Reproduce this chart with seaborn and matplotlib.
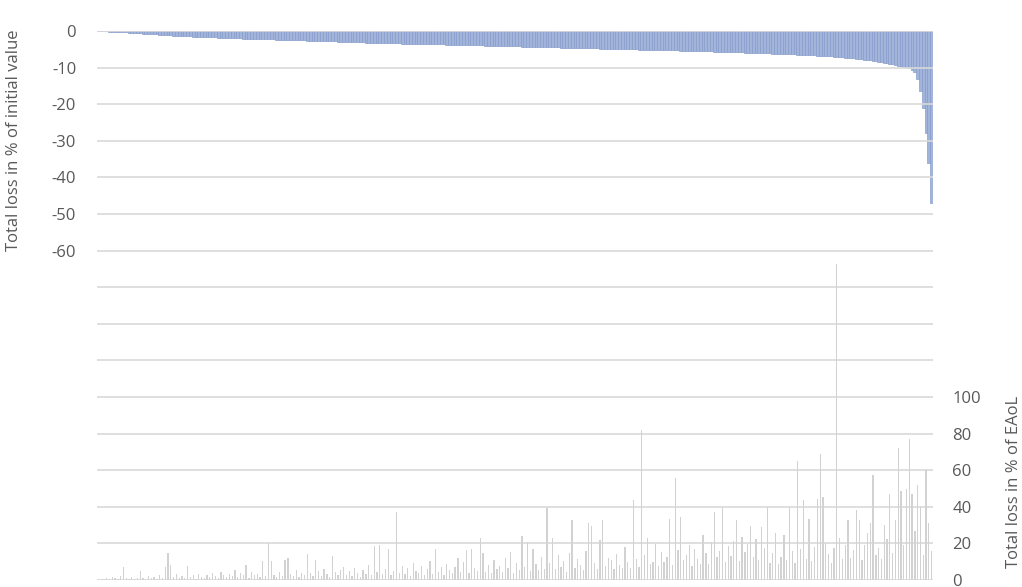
import pandas as pd
import matplotlib
matplotlib.use('Agg')
import matplotlib.pyplot as plt
import seaborn as sns

# Loss per item, sorted (left axis, % of initial value)
loss_initial = [
    -0.02, -0.05, -0.08, -0.11, -0.14, -0.18, -0.22, -0.26, -0.30, -0.35,
    -0.40, -0.45, -0.50, -0.55, -0.60, -0.65, -0.70, -0.75, -0.80, -0.85,
    -0.90, -0.95, -1.00, -1.05, -1.10, -1.15, -1.20, -1.26, -1.31, -1.36,
    -1.40, -1.43, -1.46, -1.49, -1.52, -1.55, -1.58, -1.61, -1.64, -1.67,
    -1.70, -1.73, -1.76, -1.79, -1.82, -1.85, -1.88, -1.91, -1.94, -1.97,
    -2.00, -2.02, -2.05, -2.07, -2.10, -2.12, -2.15, -2.17, -2.20, -2.22,
    -2.25, -2.27, -2.30, -2.32, -2.35, -2.37, -2.40, -2.42, -2.45, -2.47,
    -2.50, -2.52, -2.54, -2.56, -2.58, -2.60, -2.62, -2.64, -2.66, -2.68,
    -2.70, -2.73, -2.76, -2.79, -2.82, -2.85, -2.88, -2.91, -2.94, -2.97,
    -3.00, -3.02, -3.05, -3.07, -3.10, -3.12, -3.15, -3.17, -3.20, -3.22,
    -3.25, -3.27, -3.29, -3.31, -3.33, -3.35, -3.37, -3.39, -3.41, -3.43,
    -3.45, -3.46, -3.48, -3.49, -3.51, -3.52, -3.54, -3.55, -3.57, -3.58,
    -3.60, -3.62, -3.64, -3.66, -3.68, -3.70, -3.72, -3.74, -3.76, -3.78,
    -3.80, -3.82, -3.84, -3.86, -3.88, -3.90, -3.92, -3.94, -3.96, -3.98,
    -4.00, -4.02, -4.04, -4.06, -4.08, -4.10, -4.12, -4.14, -4.16, -4.18,
    -4.20, -4.22, -4.24, -4.26, -4.28, -4.30, -4.32, -4.34, -4.36, -4.38,
    -4.40, -4.42, -4.44, -4.46, -4.48, -4.50, -4.52, -4.54, -4.56, -4.58,
    -4.60, -4.62, -4.64, -4.66, -4.68, -4.70, -4.72, -4.74, -4.76, -4.78,
    -4.80, -4.82, -4.84, -4.86, -4.88, -4.90, -4.92, -4.94, -4.96, -4.98,
    -5.00, -5.01, -5.03, -5.04, -5.06, -5.07, -5.09, -5.10, -5.12, -5.13,
    -5.15, -5.17, -5.19, -5.21, -5.23, -5.25, -5.27, -5.29, -5.31, -5.33,
    -5.35, -5.37, -5.40, -5.42, -5.45, -5.47, -5.50, -5.52, -5.55, -5.57,
    -5.60, -5.62, -5.65, -5.67, -5.70, -5.72, -5.75, -5.77, -5.80, -5.82,
    -5.85, -5.87, -5.90, -5.92, -5.95, -5.97, -6.00, -6.02, -6.05, -6.07,
    -6.10, -6.13, -6.16, -6.19, -6.22, -6.25, -6.28, -6.31, -6.34, -6.37,
    -6.40, -6.44, -6.48, -6.52, -6.56, -6.60, -6.64, -6.68, -6.72, -6.76,
    -6.80, -6.85, -6.90, -6.96, -7.02, -7.08, -7.14, -7.20, -7.27, -7.34,
    -7.40, -7.48, -7.56, -7.64, -7.72, -7.82, -7.92, -8.03, -8.14, -8.26,
    -8.40, -8.54, -8.68, -8.82, -8.97, -9.12, -9.28, -9.45, -9.62, -9.76,
    -9.9, -10.2, -10.7, -11.2, -13.0, -16.5, -21.0, -28.0, -36.0, -47.0,
]

# Same items, loss in % of EAoL (right axis)
loss_eaol = [
    0.5, 0.8, 0.3, 1.2, 0.6, 1.5, 0.9, 0.4, 2.1, 7.3,
    1.0, 0.7, 1.8, 0.5, 1.3, 5.0, 1.1, 0.6, 2.4, 0.9,
    1.6, 0.8, 2.8, 1.2, 7.0, 15.0, 8.0, 1.4, 3.2, 0.9,
    2.0, 1.1, 7.8, 1.5, 2.6, 0.8, 3.4, 1.9, 1.2, 2.7,
    1.6, 3.8, 2.2, 1.0, 4.5, 2.9, 1.4, 3.1, 2.0, 5.2,
    1.8, 3.6, 2.5, 8.0, 1.3, 4.1, 2.7, 3.3, 1.9, 10.5,
    2.4, 20.4, 10.3, 3.0, 1.7, 4.6, 2.2, 11.0, 12.0, 3.5,
    2.1, 5.4, 1.6, 4.0, 2.9, 14.0, 3.6, 2.3, 11.0, 4.8,
    2.0, 6.2, 3.1, 1.8, 13.3, 4.4, 2.6, 5.7, 7.0, 3.0,
    4.9, 2.2, 6.8, 3.7, 1.9, 5.5, 3.2, 8.1, 2.8, 18.5,
    4.3, 19.0, 3.5, 6.0, 16.7, 2.7, 5.1, 37.0, 4.0, 7.4,
    3.1, 6.6, 2.4, 9.2, 4.8, 3.6, 7.9, 2.9, 5.8, 10.4,
    3.3, 16.7, 4.6, 6.9, 2.5, 8.8, 5.2, 3.8, 7.1, 12.0,
    4.5, 9.6, 16.4, 3.7, 16.7, 6.3, 5.0, 23.0, 15.0, 4.2,
    8.4, 3.6, 10.9, 5.9, 7.5, 4.1, 11.8, 6.4, 15.5, 3.9,
    9.1, 5.6, 24.0, 7.2, 21.0, 4.7, 16.7, 8.6, 5.3, 12.4,
    6.1, 39.6, 9.5, 23.0, 5.8, 13.7, 7.0, 10.2, 4.4, 14.9,
    33.0, 6.7, 11.3, 8.0, 5.2, 15.8, 31.0, 29.5, 9.4, 6.2,
    22.0, 33.0, 7.6, 12.0, 10.8, 5.9, 14.2, 8.3, 6.8, 18.0,
    9.9, 6.5, 43.6, 11.7, 7.3, 82.0, 13.5, 23.0, 8.7, 10.1,
    19.6, 7.8, 15.1, 9.6, 12.6, 33.6, 8.2, 55.5, 16.3, 34.5,
    10.7, 13.9, 19.0, 7.4, 17.2, 11.5, 9.0, 24.5, 14.6, 8.5,
    20.7, 37.0, 12.3, 16.0, 40.0, 9.7, 18.4, 13.1, 21.5, 32.7,
    10.5, 23.6, 15.4, 19.8, 29.5, 12.8, 22.4, 11.0, 29.0, 17.6,
    40.0, 9.3, 14.9, 25.5, 8.6, 12.8, 24.5, 10.9, 40.0, 15.7,
    9.2, 65.0, 16.8, 43.6, 11.3, 33.6, 10.5, 18.1, 44.0, 69.0,
    45.5, 20.0, 14.2, 9.4, 17.4, 172.7, 22.7, 11.7, 19.3, 33.0,
    12.2, 16.5, 38.0, 33.0, 10.9, 18.9, 25.5, 31.0, 57.6, 13.8,
    17.7, 11.6, 30.0, 22.4, 47.0, 14.9, 33.0, 72.0, 48.7, 19.2,
    50.0, 77.0, 47.0, 26.8, 52.0, 40.0, 13.6, 60.0, 31.0, 16.0,
]

left_ticks = [0, -10, -20, -30, -40, -50, -60]
right_ticks = [0, 20, 40, 60, 80, 100]

df = pd.DataFrame({
    'item': range(len(loss_initial)),
    'initial': loss_initial,
    'eaol': loss_eaol,
})

sns.set_theme(style='white')
plt.rcParams['font.family'] = ['Open Sans', 'DejaVu Sans']
text_col = '#595959'
fsize = 12

fig = plt.figure(figsize=(10.22, 5.87), dpi=100)
ax = fig.add_axes([97 / 1022, 7 / 587, 836 / 1022, 549 / 587])
ax2 = ax.twinx()

sns.barplot(data=df, x='item', y='initial', color='#a2b4d9', width=1.0,
            edgecolor='#8299c9', linewidth=0.45, saturation=1, ax=ax)
sns.barplot(data=df, x='item', y='eaol', color='#d2d2d2', width=0.45,
            linewidth=0, saturation=1, ax=ax2)

ax.set_ylim(-150, 0)
ax.set_xlim(-0.5, len(loss_initial) - 0.5)
ax.set_yticks(left_ticks)
ax.set_yticklabels([str(t) for t in left_ticks])
ax.tick_params(axis='y', length=0, pad=15, labelsize=fsize, labelcolor=text_col)
ax.set_xticks([])
ax.set_xlabel('')
ax.set_ylabel('')
ax.grid(False)

grid_vals = list(range(0, 301, 20))
ax2.set_ylim(0, 300)
ax2.set_yticks(grid_vals)
ax2.set_yticklabels([str(v) if v in right_ticks else '' for v in grid_vals])
ax2.tick_params(axis='y', length=0, pad=14, labelsize=fsize, labelcolor=text_col)
ax2.grid(axis='y', color='#d9d9d9', linewidth=1.2)
ax2.set_axisbelow(True)
ax2.set_xticks([])
ax2.set_xlabel('')
ax2.set_ylabel('')

for a in (ax, ax2):
    for s in a.spines.values():
        s.set_visible(False)

fig.text(14 / 1022, 1 - 140 / 587, 'Total loss in % of initial value',
         rotation=90, ha='center', va='center', fontsize=fsize, color=text_col)
fig.text(1014 / 1022, 1 - 482 / 587, 'Total loss in % of EAoL',
         rotation=90, ha='center', va='center', fontsize=fsize, color=text_col)

fig.savefig('out.png', dpi=100)
